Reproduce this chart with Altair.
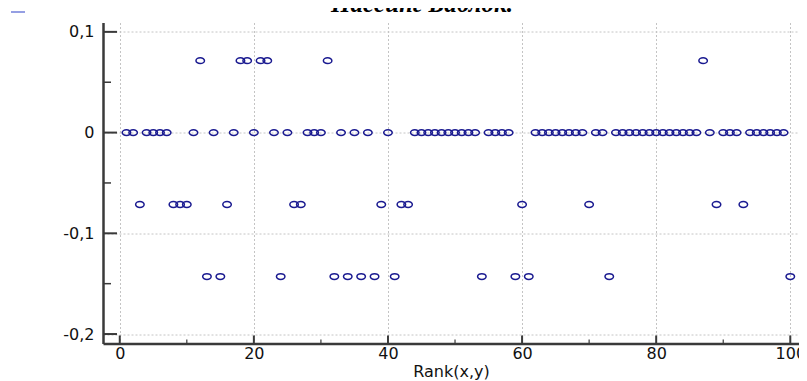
import altair as alt
import pandas as pd

# ---- data ----
title_text = "Пассинг Баблок."
x_title = "Rank(x,y)"
ranks = list(range(1, 101))
residuals = [
    0, 0, -0.0714, 0, 0, 0, 0, -0.0714, -0.0714, -0.0714,
    0, 0.0714, -0.1429, 0, -0.1429, -0.0714, 0, 0.0714, 0.0714, 0,
    0.0714, 0.0714, 0, -0.1429, 0, -0.0714, -0.0714, 0, 0, 0,
    0.0714, -0.1429, 0, -0.1429, 0, -0.1429, 0, -0.1429, -0.0714, 0,
    -0.1429, -0.0714, -0.0714, 0, 0, 0, 0, 0, 0, 0,
    0, 0, 0, -0.1429, 0, 0, 0, 0, -0.1429, -0.0714,
    -0.1429, 0, 0, 0, 0, 0, 0, 0, 0, -0.0714,
    0, 0, -0.1429, 0, 0, 0, 0, 0, 0, 0,
    0, 0, 0, 0, 0, 0, 0.0714, 0, -0.0714, 0,
    0, 0, -0.0714, 0, 0, 0, 0, 0, 0, -0.1429,
]
x_major = [0, 20, 40, 60, 80, 100]
x_minor = [10, 30, 50, 70, 90]
y_major = [-0.2, -0.1, 0, 0.1]
y_minor = [-0.15, -0.05, 0.05]

df = pd.DataFrame({"rank": ranks, "resid": residuals})

W, H = 696, 321
NAVY = "#1a1a90"
AXIS = "#3a3a3a"
FONT = "DejaVu Sans"
ELLIPSE = "M-1,0 A1,0.68 0 1,0 1,0 A1,0.68 0 1,0 -1,0 Z"

xs = alt.Scale(domain=[-2.5, 101.3], nice=False, zero=False)
ys = alt.Scale(domain=[-0.2094, 0.1093], nice=False, zero=False)

y_label_expr = ("datum.value == 0 ? '0' : (datum.value < 0 ? '-' : '') + "
                "replace(format(abs(datum.value), '.1f'), '.', ',')")

x_axis = alt.Axis(
    values=x_major, format="d", title=x_title, tickSize=0,
    domainWidth=2.5, domainColor=AXIS,
    grid=True, gridColor="#c4c4c4", gridDash=[2, 2], gridWidth=1,
    labelFont=FONT, labelFontSize=16, labelColor="#111", labelPadding=2,
    titleFont=FONT, titleFontSize=16, titleFontWeight="normal",
    titleColor="#111", titlePadding=2)
y_axis = alt.Axis(
    values=y_major, labelExpr=y_label_expr, title=None, tickSize=0,
    domainWidth=2.5, domainColor=AXIS,
    grid=True, gridColor="#c4c4c4", gridDash=[2, 2], gridWidth=1,
    labelFont=FONT, labelFontSize=16, labelColor="#111", labelPadding=9)

X = lambda: alt.X("rank:Q", scale=xs, axis=x_axis)
Y = lambda: alt.Y("resid:Q", scale=ys, axis=y_axis)

points = alt.Chart(df).mark_point(
    shape=ELLIPSE, size=72, filled=False, color=NAVY, strokeWidth=1.5, opacity=1
).encode(x=X(), y=Y())

ymaj = alt.Chart(pd.DataFrame({"resid": y_major})).mark_rule(color=AXIS, strokeWidth=2).encode(
    y=Y(), x=alt.value(0), x2=alt.value(14))
ymin = alt.Chart(pd.DataFrame({"resid": y_minor})).mark_rule(color=AXIS, strokeWidth=1.5).encode(
    y=Y(), x=alt.value(0), x2=alt.value(8))
xmaj = alt.Chart(pd.DataFrame({"rank": x_major})).mark_rule(color=AXIS, strokeWidth=2).encode(
    x=X(), y=alt.value(H), y2=alt.value(H - 8))
xmin = alt.Chart(pd.DataFrame({"rank": x_minor})).mark_rule(color=AXIS, strokeWidth=1.2).encode(
    x=X(), y=alt.value(H), y2=alt.value(H - 4))

title = alt.Chart(pd.DataFrame({"t": [title_text]})).mark_text(
    font="Liberation Serif", fontSize=25, fontWeight="bold", fontStyle="italic",
    align="center", baseline="alphabetic", color="#000"
).encode(text="t:N", x=alt.value(319), y=alt.value(-11))

dash = alt.Chart(pd.DataFrame({"k": [0]})).mark_rule(color="#4f5fd0", strokeWidth=1.2).encode(
    x=alt.value(-92), x2=alt.value(-78), y=alt.value(-10.5))

chart = alt.layer(points, ymaj, ymin, xmaj, xmin, title, dash).properties(
    width=W, height=H,
    autosize=alt.AutoSizeParams(type="none"),
    padding={"left": 95, "top": 14.5, "right": 0, "bottom": 37.5},
).configure_view(strokeWidth=0)

chart.save("out.html", embed_options={"renderer": "svg", "actions": False})
